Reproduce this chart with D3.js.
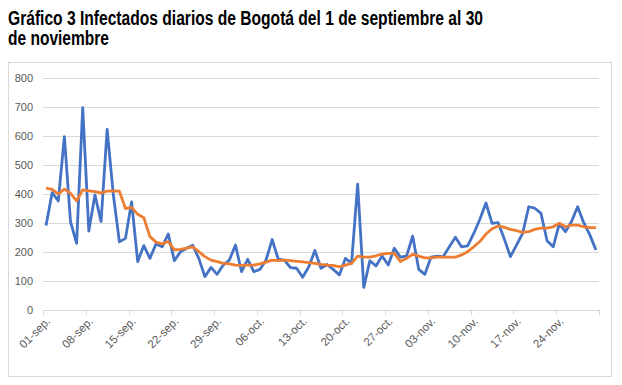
<!DOCTYPE html>
<html><head><meta charset="utf-8">
<script src="https://cdn.jsdelivr.net/npm/d3@7"></script>
<style>body{margin:0;background:#fff}svg{display:block}</style>
</head><body>
<script>
const titleLines = ["Gráfico 3 Infectados diarios de Bogotá del 1 de septiembre al 30", "de noviembre"];
const days = d3.timeDay.range(new Date(2020, 8, 1), new Date(2020, 11, 1));
const tickLabels = ["01-sep.","08-sep.","15-sep.","22-sep.","29-sep.","06-oct.","13-oct.","20-oct.","27-oct.","03-nov.","10-nov.","17-nov.","24-nov."];
const yTicks = [0,100,200,300,400,500,600,700,800];
const daily = [291,405,376,598,305,230,698,272,397,305,
  623,400,235,247,373,167,222,178,228,218,
  262,170,201,213,223,178,115,147,123,155,
  172,224,132,175,132,140,172,243,175,172,
  146,144,113,149,205,144,157,140,121,178,
  161,434,78,170,152,186,155,213,182,186,
  255,140,123,182,186,184,218,251,218,221,
  264,313,369,299,301,245,184,224,264,356,
  351,333,239,218,297,270,305,356,301,259,207];
const average = [420,416,400,417,402,376,414,411,408,404,
  410,411,410,350,354,330,318,253,234,228,
  236,207,209,213,218,201,184,172,167,161,
  159,155,154,155,155,159,165,172,170,172,
  170,168,166,163,161,157,155,154,149,155,
  161,186,182,182,187,193,195,195,167,178,
  192,186,180,180,182,182,182,182,190,201,
  218,236,262,280,290,285,278,274,268,270,
  278,282,282,287,299,287,293,293,287,284,284];

const W = 622, H = 385;
const svg = d3.select("body").append("svg").attr("width", W).attr("height", H)
  .style("font-family", "'Liberation Sans', Arial, sans-serif");

// title
svg.append("text").attr("x", 8).attr("y", 25).attr("font-size", 20).attr("font-weight", "bold")
  .attr("fill", "#000").attr("textLength", 475).attr("lengthAdjust", "spacingAndGlyphs").text(titleLines[0]);
svg.append("text").attr("x", 8).attr("y", 45).attr("font-size", 20).attr("font-weight", "bold")
  .attr("fill", "#000").attr("textLength", 101).attr("lengthAdjust", "spacingAndGlyphs").text(titleLines[1]);

// chart frame
svg.append("rect").attr("x", 8.5).attr("y", 62.5).attr("width", 603).attr("height", 314)
  .attr("fill", "#fff").attr("stroke", "#d9d9d9");

const x0 = 43, x1 = 599, y0 = 310, y1 = 78;
const xb = d3.scaleBand().domain(d3.range(days.length)).range([x0, x1]).paddingInner(0).paddingOuter(0);
const x = i => xb(i) + xb.bandwidth() / 2;
const y = d3.scaleLinear().domain([0, 800]).range([y0, y1]);

// gridlines
svg.append("g").selectAll("line").data(yTicks.filter(d => d > 0)).join("line")
  .attr("x1", x0).attr("x2", x1).attr("y1", d => Math.round(y(d)) + 0.5).attr("y2", d => Math.round(y(d)) + 0.5)
  .attr("stroke", "#d9d9d9").attr("stroke-width", 1);

// y labels
svg.append("g").selectAll("text").data(yTicks).join("text")
  .attr("x", 33).attr("y", d => y(d) + 4).attr("text-anchor", "end")
  .attr("font-size", 11).attr("fill", "#595959").text(d => d);

// x axis line
svg.append("line").attr("x1", x0).attr("x2", x1).attr("y1", y0 + 0.5).attr("y2", y0 + 0.5)
  .attr("stroke", "#d9d9d9");
// tick marks every 7 categories
const tickIdx = d3.range(0, days.length + 1, 7);
svg.append("g").selectAll("line").data(tickIdx).join("line")
  .attr("x1", i => Math.round(x0 + i * xb.step()) + 0.5).attr("x2", i => Math.round(x0 + i * xb.step()) + 0.5)
  .attr("y1", y0).attr("y2", y0 + 5).attr("stroke", "#d9d9d9");

// x labels
svg.append("g").selectAll("text").data(tickLabels).join("text")
  .attr("transform", (d, k) => `translate(${x(k * 7) + 5},${y0 + 12}) rotate(-45)`)
  .attr("text-anchor", "end").attr("font-size", 11.5).attr("fill", "#595959").text(d => d);

// lines
const line = d3.line().x((d, i) => x(i)).y(d => y(d));
svg.append("path").datum(daily).attr("d", line).attr("fill", "none")
  .attr("stroke", "#4472C4").attr("stroke-width", 2.8).attr("stroke-linejoin", "round");
svg.append("path").datum(average).attr("d", line).attr("fill", "none")
  .attr("stroke", "#ED7D31").attr("stroke-width", 2.8).attr("stroke-linejoin", "round");
</script>
</body></html>
